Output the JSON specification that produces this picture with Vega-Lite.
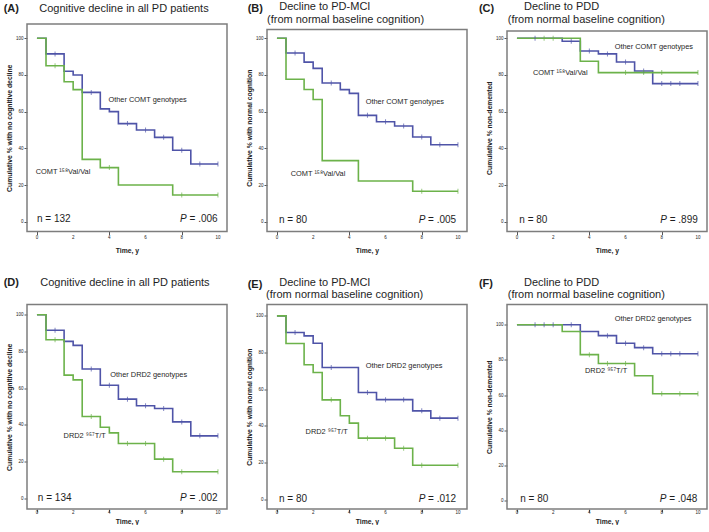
{
"$schema":"https://vega.github.io/schema/vega-lite/v6.json",
"padding":{"left":3,"top":1,"right":0,"bottom":0},
"bounds":"flush",
"columns":3,
"spacing":{"row":72.5,"column":40},
"config":{"view":{"stroke":null},"font":"Liberation Sans",
"axis":{"domain":false,"grid":false,"tickSize":3,"tickColor":"#555555","tickWidth":1,"labelFontSize":4.5,"labelColor":"#222222","labelPadding":1,"titleFontSize":6.8,"titleFontWeight":"bold","titleColor":"#222222","labelFont":"Liberation Sans","titleFont":"Liberation Sans","labelFlush":false,"labelOverlap":false},
"text":{"font":"Liberation Sans","color":"#1e1e1e"}},
"datasets":{
"xt":[{"v":0},{"v":2},{"v":4},{"v":6},{"v":8},{"v":10}],
"km":[
{"p":"A","g":"other","t":0,"s":100},{"p":"A","g":"other","t":0.5,"s":91.5},{"p":"A","g":"other","t":1.5,"s":82},{"p":"A","g":"other","t":2,"s":80},{"p":"A","g":"other","t":2.5,"s":70.5},{"p":"A","g":"other","t":3.5,"s":61.5},{"p":"A","g":"other","t":4,"s":60},{"p":"A","g":"other","t":4.5,"s":53.5},{"p":"A","g":"other","t":5.5,"s":50},{"p":"A","g":"other","t":6.5,"s":46},{"p":"A","g":"other","t":7.5,"s":39},{"p":"A","g":"other","t":8.5,"s":31.5},{"p":"A","g":"other","t":10,"s":31.5},
{"p":"A","g":"risk","t":0,"s":100},{"p":"A","g":"risk","t":0.5,"s":85},{"p":"A","g":"risk","t":1.5,"s":76.3},{"p":"A","g":"risk","t":2,"s":72},{"p":"A","g":"risk","t":2.5,"s":34},{"p":"A","g":"risk","t":3.5,"s":29.5},{"p":"A","g":"risk","t":4.5,"s":20},{"p":"A","g":"risk","t":7.5,"s":14.6},{"p":"A","g":"risk","t":10,"s":14.6},
{"p":"B","g":"other","t":0,"s":100},{"p":"B","g":"other","t":0.5,"s":92},{"p":"B","g":"other","t":1.5,"s":87},{"p":"B","g":"other","t":2,"s":83.6},{"p":"B","g":"other","t":2.5,"s":75.6},{"p":"B","g":"other","t":3.5,"s":72},{"p":"B","g":"other","t":4,"s":70},{"p":"B","g":"other","t":4.5,"s":58},{"p":"B","g":"other","t":5.5,"s":54.5},{"p":"B","g":"other","t":6.5,"s":52.2},{"p":"B","g":"other","t":7.5,"s":46.2},{"p":"B","g":"other","t":8.5,"s":42},{"p":"B","g":"other","t":10,"s":42},
{"p":"B","g":"risk","t":0,"s":100},{"p":"B","g":"risk","t":0.5,"s":77.7},{"p":"B","g":"risk","t":1.5,"s":72.1},{"p":"B","g":"risk","t":2,"s":66.6},{"p":"B","g":"risk","t":2.5,"s":33.3},{"p":"B","g":"risk","t":4.5,"s":22.2},{"p":"B","g":"risk","t":7.5,"s":16.6},{"p":"B","g":"risk","t":10,"s":16.6},
{"p":"C","g":"other","t":0,"s":100},{"p":"C","g":"other","t":2.5,"s":98.4},{"p":"C","g":"other","t":3.5,"s":93.1},{"p":"C","g":"other","t":4.5,"s":91.5},{"p":"C","g":"other","t":5.5,"s":87.1},{"p":"C","g":"other","t":6.5,"s":82.2},{"p":"C","g":"other","t":7.5,"s":75.3},{"p":"C","g":"other","t":10,"s":75.3},
{"p":"C","g":"risk","t":0,"s":100},{"p":"C","g":"risk","t":3.5,"s":87.5},{"p":"C","g":"risk","t":4.5,"s":81.3},{"p":"C","g":"risk","t":10,"s":81.3},
{"p":"D","g":"other","t":0,"s":100},{"p":"D","g":"other","t":0.5,"s":91.6},{"p":"D","g":"other","t":1.5,"s":85.5},{"p":"D","g":"other","t":2,"s":83.3},{"p":"D","g":"other","t":2.5,"s":70.4},{"p":"D","g":"other","t":3.5,"s":61.6},{"p":"D","g":"other","t":4.5,"s":54},{"p":"D","g":"other","t":5.5,"s":50.4},{"p":"D","g":"other","t":6.5,"s":48.9},{"p":"D","g":"other","t":7.5,"s":41.6},{"p":"D","g":"other","t":8.5,"s":34},{"p":"D","g":"other","t":10,"s":34},
{"p":"D","g":"risk","t":0,"s":100},{"p":"D","g":"risk","t":0.5,"s":86.4},{"p":"D","g":"risk","t":1.5,"s":67.1},{"p":"D","g":"risk","t":2,"s":64.5},{"p":"D","g":"risk","t":2.5,"s":44.5},{"p":"D","g":"risk","t":3.5,"s":38.7},{"p":"D","g":"risk","t":4,"s":35.6},{"p":"D","g":"risk","t":4.5,"s":29.8},{"p":"D","g":"risk","t":6.5,"s":21.3},{"p":"D","g":"risk","t":7.5,"s":14.4},{"p":"D","g":"risk","t":10,"s":14.4},
{"p":"E","g":"other","t":0,"s":100},{"p":"E","g":"other","t":0.5,"s":90.9},{"p":"E","g":"other","t":1.5,"s":89.1},{"p":"E","g":"other","t":2,"s":85.1},{"p":"E","g":"other","t":2.5,"s":71.8},{"p":"E","g":"other","t":4.5,"s":58.2},{"p":"E","g":"other","t":5.5,"s":54.3},{"p":"E","g":"other","t":7.5,"s":48.2},{"p":"E","g":"other","t":8.5,"s":44.2},{"p":"E","g":"other","t":10,"s":44.2},
{"p":"E","g":"risk","t":0,"s":100},{"p":"E","g":"risk","t":0.5,"s":84.9},{"p":"E","g":"risk","t":1.5,"s":73.3},{"p":"E","g":"risk","t":2,"s":69.1},{"p":"E","g":"risk","t":2.5,"s":54.2},{"p":"E","g":"risk","t":3.5,"s":45.5},{"p":"E","g":"risk","t":4,"s":41.5},{"p":"E","g":"risk","t":4.5,"s":33.3},{"p":"E","g":"risk","t":6.5,"s":27.8},{"p":"E","g":"risk","t":7.5,"s":18.5},{"p":"E","g":"risk","t":10,"s":18.5},
{"p":"F","g":"other","t":0,"s":100},{"p":"F","g":"other","t":3.5,"s":96.2},{"p":"F","g":"other","t":4.5,"s":93.8},{"p":"F","g":"other","t":5.5,"s":89.5},{"p":"F","g":"other","t":6.5,"s":87},{"p":"F","g":"other","t":7.5,"s":83.5},{"p":"F","g":"other","t":10,"s":83.5},
{"p":"F","g":"risk","t":0,"s":100},{"p":"F","g":"risk","t":2.5,"s":96.2},{"p":"F","g":"risk","t":3.5,"s":83},{"p":"F","g":"risk","t":4.5,"s":78},{"p":"F","g":"risk","t":6.5,"s":71},{"p":"F","g":"risk","t":7.5,"s":60.8},{"p":"F","g":"risk","t":10,"s":60.8}
],
"cens":[
{"p":"A","g":"other","t":1,"s":91.5},{"p":"A","g":"other","t":3,"s":70.5},{"p":"A","g":"other","t":5,"s":53.5},{"p":"A","g":"other","t":6,"s":50},{"p":"A","g":"other","t":7,"s":46},{"p":"A","g":"other","t":8,"s":39},{"p":"A","g":"other","t":9,"s":31.5},{"p":"A","g":"other","t":10,"s":31.5},
{"p":"A","g":"risk","t":1,"s":85},{"p":"A","g":"risk","t":4,"s":29.5},{"p":"A","g":"risk","t":8,"s":14.6},{"p":"A","g":"risk","t":10,"s":14.6},
{"p":"B","g":"other","t":1,"s":92},{"p":"B","g":"other","t":3,"s":75.6},{"p":"B","g":"other","t":5,"s":58},{"p":"B","g":"other","t":6,"s":54.5},{"p":"B","g":"other","t":7,"s":52.2},{"p":"B","g":"other","t":8,"s":46.2},{"p":"B","g":"other","t":9,"s":42},{"p":"B","g":"other","t":10,"s":42},
{"p":"B","g":"risk","t":8,"s":16.6},{"p":"B","g":"risk","t":10,"s":16.6},
{"p":"C","g":"other","t":1,"s":100},{"p":"C","g":"other","t":3,"s":98.4},{"p":"C","g":"other","t":4,"s":93.1},{"p":"C","g":"other","t":5,"s":91.5},{"p":"C","g":"other","t":6,"s":87.1},{"p":"C","g":"other","t":7,"s":82.2},{"p":"C","g":"other","t":8,"s":75.3},{"p":"C","g":"other","t":8.5,"s":75.3},{"p":"C","g":"other","t":9,"s":75.3},{"p":"C","g":"other","t":10,"s":75.3},
{"p":"C","g":"risk","t":1.5,"s":100},{"p":"C","g":"risk","t":2,"s":100},{"p":"C","g":"risk","t":6,"s":81.3},{"p":"C","g":"risk","t":7,"s":81.3},{"p":"C","g":"risk","t":8,"s":81.3},{"p":"C","g":"risk","t":10,"s":81.3},
{"p":"D","g":"other","t":1,"s":91.6},{"p":"D","g":"other","t":3,"s":70.4},{"p":"D","g":"other","t":4,"s":61.6},{"p":"D","g":"other","t":5,"s":54},{"p":"D","g":"other","t":6,"s":50.4},{"p":"D","g":"other","t":7,"s":48.9},{"p":"D","g":"other","t":8,"s":41.6},{"p":"D","g":"other","t":9,"s":34},{"p":"D","g":"other","t":10,"s":34},
{"p":"D","g":"risk","t":1,"s":86.4},{"p":"D","g":"risk","t":3,"s":44.5},{"p":"D","g":"risk","t":5,"s":29.8},{"p":"D","g":"risk","t":6,"s":29.8},{"p":"D","g":"risk","t":7,"s":21.3},{"p":"D","g":"risk","t":8,"s":14.4},{"p":"D","g":"risk","t":10,"s":14.4},
{"p":"E","g":"other","t":1,"s":90.9},{"p":"E","g":"other","t":3,"s":71.8},{"p":"E","g":"other","t":5,"s":58.2},{"p":"E","g":"other","t":6,"s":54.3},{"p":"E","g":"other","t":7,"s":54.3},{"p":"E","g":"other","t":8,"s":48.2},{"p":"E","g":"other","t":9,"s":44.2},{"p":"E","g":"other","t":10,"s":44.2},
{"p":"E","g":"risk","t":3,"s":54.2},{"p":"E","g":"risk","t":5,"s":33.3},{"p":"E","g":"risk","t":6,"s":33.3},{"p":"E","g":"risk","t":7,"s":27.8},{"p":"E","g":"risk","t":8,"s":18.5},{"p":"E","g":"risk","t":10,"s":18.5},
{"p":"F","g":"other","t":1,"s":100},{"p":"F","g":"other","t":1.5,"s":100},{"p":"F","g":"other","t":2,"s":100},{"p":"F","g":"other","t":3,"s":100},{"p":"F","g":"other","t":5,"s":93.8},{"p":"F","g":"other","t":6,"s":89.5},{"p":"F","g":"other","t":7,"s":87},{"p":"F","g":"other","t":8,"s":83.5},{"p":"F","g":"other","t":8.5,"s":83.5},{"p":"F","g":"other","t":9,"s":83.5},{"p":"F","g":"other","t":10,"s":83.5},
{"p":"F","g":"risk","t":4,"s":83},{"p":"F","g":"risk","t":5,"s":78},{"p":"F","g":"risk","t":6,"s":78},{"p":"F","g":"risk","t":8,"s":60.8},{"p":"F","g":"risk","t":9,"s":60.8},{"p":"F","g":"risk","t":10,"s":60.8}
]},
"concat":[
{"width":200,"height":207.5,"layer":[
{"data":{"values":[{}]},"mark":{"type":"rect","fill":"transparent","stroke":"#7d7d7d","strokeWidth":1.5},"encoding":{"x":{"datum":-0.55,"type":"quantitative","scale":{"domain":[-0.55,10.5],"nice":false,"zero":false}},"x2":{"datum":10.5},"y":{"datum":-5.34,"type":"quantitative","scale":{"domain":[-5.34,107.8],"nice":false,"zero":false}},"y2":{"datum":107.8}}},
{"data":{"name":"km"},"transform":[{"filter":"datum.p == 'A'"}],"mark":{"type":"line","interpolate":"step-after","strokeWidth":1.6},"encoding":{"x":{"field":"t","type":"quantitative","scale":{"domain":[-0.55,10.5],"nice":false,"zero":false},"axis":{"values":[0,2,4,6,8,10],"labels":false,"title":"Time, y","titlePadding":12}},"y":{"field":"s","type":"quantitative","scale":{"domain":[-5.34,107.8],"nice":false,"zero":false},"axis":{"values":[0,20,40,60,80,100],"title":"Cumulative % with no cognitive decline","titlePadding":3}},"color":{"field":"g","type":"nominal","scale":{"domain":["other","risk"],"range":["#4f54a8","#6cb24a"]},"legend":null}}},
{"data":{"name":"cens"},"transform":[{"filter":"datum.p == 'A'"}],"mark":{"type":"tick","orient":"vertical","size":5,"thickness":1},"encoding":{"x":{"field":"t","type":"quantitative","scale":{"domain":[-0.55,10.5],"nice":false,"zero":false}},"y":{"field":"s","type":"quantitative","scale":{"domain":[-5.34,107.8],"nice":false,"zero":false}},"color":{"field":"g","type":"nominal","scale":{"domain":["other","risk"],"range":["#4f54a8","#6cb24a"]},"legend":null}}},
{"data":{"name":"xt"},"mark":{"type":"text","align":"center","baseline":"middle","fontSize":4.5,"color":"#222222"},"encoding":{"x":{"field":"v","type":"quantitative","scale":{"domain":[-0.55,10.5],"nice":false,"zero":false}},"y":{"datum":-8.9,"type":"quantitative","scale":{"domain":[-5.34,107.8],"nice":false,"zero":false}},"text":{"field":"v","type":"quantitative"}}},
{"data":{"values":[{}]},"mark":{"type":"text","text":"Other COMT genotypes","align":"left","baseline":"middle","fontSize":7.4},"encoding":{"x":{"datum":3.95,"type":"quantitative","scale":{"domain":[-0.55,10.5],"nice":false,"zero":false}},"y":{"datum":66.6,"type":"quantitative","scale":{"domain":[-5.34,107.8],"nice":false,"zero":false}}}},
{"data":{"values":[{}]},"mark":{"type":"text","text":"COMT \u00b9\u2075\u2078Val/Val","align":"left","baseline":"middle","fontSize":7.4},"encoding":{"x":{"datum":-0.07,"type":"quantitative","scale":{"domain":[-0.55,10.5],"nice":false,"zero":false}},"y":{"datum":27,"type":"quantitative","scale":{"domain":[-5.34,107.8],"nice":false,"zero":false}}}},
{"data":{"values":[{}]},"mark":{"type":"text","text":"n = 132","align":"left","baseline":"alphabetic","fontSize":10},"encoding":{"x":{"datum":0,"type":"quantitative","scale":{"domain":[-0.55,10.5],"nice":false,"zero":false}},"y":{"datum":0,"type":"quantitative","scale":{"domain":[-5.34,107.8],"nice":false,"zero":false}}}},
{"data":{"values":[{}]},"mark":{"type":"text","text":"P","fontStyle":"italic","align":"left","baseline":"alphabetic","fontSize":10},"encoding":{"x":{"datum":7.9,"type":"quantitative","scale":{"domain":[-0.55,10.5],"nice":false,"zero":false}},"y":{"datum":0,"type":"quantitative","scale":{"domain":[-5.34,107.8],"nice":false,"zero":false}}}},
{"data":{"values":[{}]},"mark":{"type":"text","text":"= .006","align":"left","baseline":"alphabetic","fontSize":10},"encoding":{"x":{"datum":8.43,"type":"quantitative","scale":{"domain":[-0.55,10.5],"nice":false,"zero":false}},"y":{"datum":0,"type":"quantitative","scale":{"domain":[-5.34,107.8],"nice":false,"zero":false}}}},
{"data":{"values":[{}]},"mark":{"type":"text","text":"(A)","fontWeight":"bold","align":"left","baseline":"alphabetic","fontSize":11},"encoding":{"x":{"datum":-1.84,"type":"quantitative","scale":{"domain":[-0.55,10.5],"nice":false,"zero":false}},"y":{"datum":114.3,"type":"quantitative","scale":{"domain":[-5.34,107.8],"nice":false,"zero":false}}}},
{"data":{"values":[{}]},"mark":{"type":"text","text":"Cognitive decline in all PD patients","align":"left","baseline":"alphabetic","fontSize":11},"encoding":{"x":{"datum":0.13,"type":"quantitative","scale":{"domain":[-0.55,10.5],"nice":false,"zero":false}},"y":{"datum":114.3,"type":"quantitative","scale":{"domain":[-5.34,107.8],"nice":false,"zero":false}}}}
]},
{"width":200,"height":207.5,"layer":[
{"data":{"values":[{}]},"mark":{"type":"rect","fill":"transparent","stroke":"#7d7d7d","strokeWidth":1.5},"encoding":{"x":{"datum":-0.55,"type":"quantitative","scale":{"domain":[-0.55,10.5],"nice":false,"zero":false}},"x2":{"datum":10.5},"y":{"datum":-5.34,"type":"quantitative","scale":{"domain":[-5.34,107.8],"nice":false,"zero":false}},"y2":{"datum":104.8}}},
{"data":{"name":"km"},"transform":[{"filter":"datum.p == 'B'"}],"mark":{"type":"line","interpolate":"step-after","strokeWidth":1.6},"encoding":{"x":{"field":"t","type":"quantitative","scale":{"domain":[-0.55,10.5],"nice":false,"zero":false},"axis":{"values":[0,2,4,6,8,10],"labels":false,"title":"Time, y","titlePadding":12}},"y":{"field":"s","type":"quantitative","scale":{"domain":[-5.34,107.8],"nice":false,"zero":false},"axis":{"values":[0,20,40,60,80,100],"title":"Cumulative % with normal cognition","titlePadding":3}},"color":{"field":"g","type":"nominal","scale":{"domain":["other","risk"],"range":["#4f54a8","#6cb24a"]},"legend":null}}},
{"data":{"name":"cens"},"transform":[{"filter":"datum.p == 'B'"}],"mark":{"type":"tick","orient":"vertical","size":5,"thickness":1},"encoding":{"x":{"field":"t","type":"quantitative","scale":{"domain":[-0.55,10.5],"nice":false,"zero":false}},"y":{"field":"s","type":"quantitative","scale":{"domain":[-5.34,107.8],"nice":false,"zero":false}},"color":{"field":"g","type":"nominal","scale":{"domain":["other","risk"],"range":["#4f54a8","#6cb24a"]},"legend":null}}},
{"data":{"name":"xt"},"mark":{"type":"text","align":"center","baseline":"middle","fontSize":4.5,"color":"#222222"},"encoding":{"x":{"field":"v","type":"quantitative","scale":{"domain":[-0.55,10.5],"nice":false,"zero":false}},"y":{"datum":-8.9,"type":"quantitative","scale":{"domain":[-5.34,107.8],"nice":false,"zero":false}},"text":{"field":"v","type":"quantitative"}}},
{"data":{"values":[{}]},"mark":{"type":"text","text":"Other COMT genotypes","align":"left","baseline":"middle","fontSize":7.4},"encoding":{"x":{"datum":4.9,"type":"quantitative","scale":{"domain":[-0.55,10.5],"nice":false,"zero":false}},"y":{"datum":65.3,"type":"quantitative","scale":{"domain":[-5.34,107.8],"nice":false,"zero":false}}}},
{"data":{"values":[{}]},"mark":{"type":"text","text":"COMT \u00b9\u2075\u2078Val/Val","align":"left","baseline":"middle","fontSize":7.4},"encoding":{"x":{"datum":0.76,"type":"quantitative","scale":{"domain":[-0.55,10.5],"nice":false,"zero":false}},"y":{"datum":26.1,"type":"quantitative","scale":{"domain":[-5.34,107.8],"nice":false,"zero":false}}}},
{"data":{"values":[{}]},"mark":{"type":"text","text":"n = 80","align":"left","baseline":"alphabetic","fontSize":10},"encoding":{"x":{"datum":0.11,"type":"quantitative","scale":{"domain":[-0.55,10.5],"nice":false,"zero":false}},"y":{"datum":-0.5,"type":"quantitative","scale":{"domain":[-5.34,107.8],"nice":false,"zero":false}}}},
{"data":{"values":[{}]},"mark":{"type":"text","text":"P","fontStyle":"italic","align":"left","baseline":"alphabetic","fontSize":10},"encoding":{"x":{"datum":7.83,"type":"quantitative","scale":{"domain":[-0.55,10.5],"nice":false,"zero":false}},"y":{"datum":-0.5,"type":"quantitative","scale":{"domain":[-5.34,107.8],"nice":false,"zero":false}}}},
{"data":{"values":[{}]},"mark":{"type":"text","text":"= .005","align":"left","baseline":"alphabetic","fontSize":10},"encoding":{"x":{"datum":8.35,"type":"quantitative","scale":{"domain":[-0.55,10.5],"nice":false,"zero":false}},"y":{"datum":-0.5,"type":"quantitative","scale":{"domain":[-5.34,107.8],"nice":false,"zero":false}}}},
{"data":{"values":[{}]},"mark":{"type":"text","text":"(B)","fontWeight":"bold","align":"left","baseline":"alphabetic","fontSize":11},"encoding":{"x":{"datum":-1.62,"type":"quantitative","scale":{"domain":[-0.55,10.5],"nice":false,"zero":false}},"y":{"datum":114.1,"type":"quantitative","scale":{"domain":[-5.34,107.8],"nice":false,"zero":false}}}},
{"data":{"values":[{}]},"mark":{"type":"text","text":"Decline to PD-MCI","align":"left","baseline":"alphabetic","fontSize":11},"encoding":{"x":{"datum":0.13,"type":"quantitative","scale":{"domain":[-0.55,10.5],"nice":false,"zero":false}},"y":{"datum":115.4,"type":"quantitative","scale":{"domain":[-5.34,107.8],"nice":false,"zero":false}}}},
{"data":{"values":[{}]},"mark":{"type":"text","text":"(from normal baseline cognition)","align":"left","baseline":"alphabetic","fontSize":11},"encoding":{"x":{"datum":-0.55,"type":"quantitative","scale":{"domain":[-0.55,10.5],"nice":false,"zero":false}},"y":{"datum":108.3,"type":"quantitative","scale":{"domain":[-5.34,107.8],"nice":false,"zero":false}}}}
]},
{"width":200,"height":207.5,"layer":[
{"data":{"values":[{}]},"mark":{"type":"rect","fill":"transparent","stroke":"#7d7d7d","strokeWidth":1.5},"encoding":{"x":{"datum":-0.55,"type":"quantitative","scale":{"domain":[-0.55,10.5],"nice":false,"zero":false}},"x2":{"datum":10.5},"y":{"datum":-5.34,"type":"quantitative","scale":{"domain":[-5.34,107.8],"nice":false,"zero":false}},"y2":{"datum":104}}},
{"data":{"name":"km"},"transform":[{"filter":"datum.p == 'C'"}],"mark":{"type":"line","interpolate":"step-after","strokeWidth":1.6},"encoding":{"x":{"field":"t","type":"quantitative","scale":{"domain":[-0.55,10.5],"nice":false,"zero":false},"axis":{"values":[0,2,4,6,8,10],"labels":false,"title":"Time, y","titlePadding":12}},"y":{"field":"s","type":"quantitative","scale":{"domain":[-5.34,107.8],"nice":false,"zero":false},"axis":{"values":[0,20,40,60,80,100],"title":"Cumulative % non-demented","titlePadding":3}},"color":{"field":"g","type":"nominal","scale":{"domain":["other","risk"],"range":["#4f54a8","#6cb24a"]},"legend":null}}},
{"data":{"name":"cens"},"transform":[{"filter":"datum.p == 'C'"}],"mark":{"type":"tick","orient":"vertical","size":5,"thickness":1},"encoding":{"x":{"field":"t","type":"quantitative","scale":{"domain":[-0.55,10.5],"nice":false,"zero":false}},"y":{"field":"s","type":"quantitative","scale":{"domain":[-5.34,107.8],"nice":false,"zero":false}},"color":{"field":"g","type":"nominal","scale":{"domain":["other","risk"],"range":["#4f54a8","#6cb24a"]},"legend":null}}},
{"data":{"name":"xt"},"mark":{"type":"text","align":"center","baseline":"middle","fontSize":4.5,"color":"#222222"},"encoding":{"x":{"field":"v","type":"quantitative","scale":{"domain":[-0.55,10.5],"nice":false,"zero":false}},"y":{"datum":-8.9,"type":"quantitative","scale":{"domain":[-5.34,107.8],"nice":false,"zero":false}},"text":{"field":"v","type":"quantitative"}}},
{"data":{"values":[{}]},"mark":{"type":"text","text":"Other COMT genotypes","align":"left","baseline":"middle","fontSize":7.4},"encoding":{"x":{"datum":5.4,"type":"quantitative","scale":{"domain":[-0.55,10.5],"nice":false,"zero":false}},"y":{"datum":95.1,"type":"quantitative","scale":{"domain":[-5.34,107.8],"nice":false,"zero":false}}}},
{"data":{"values":[{}]},"mark":{"type":"text","text":"COMT \u00b9\u2075\u2078Val/Val","align":"left","baseline":"middle","fontSize":7.4},"encoding":{"x":{"datum":0.88,"type":"quantitative","scale":{"domain":[-0.55,10.5],"nice":false,"zero":false}},"y":{"datum":81.1,"type":"quantitative","scale":{"domain":[-5.34,107.8],"nice":false,"zero":false}}}},
{"data":{"values":[{}]},"mark":{"type":"text","text":"n = 80","align":"left","baseline":"alphabetic","fontSize":10},"encoding":{"x":{"datum":0.13,"type":"quantitative","scale":{"domain":[-0.55,10.5],"nice":false,"zero":false}},"y":{"datum":-0.5,"type":"quantitative","scale":{"domain":[-5.34,107.8],"nice":false,"zero":false}}}},
{"data":{"values":[{}]},"mark":{"type":"text","text":"P","fontStyle":"italic","align":"left","baseline":"alphabetic","fontSize":10},"encoding":{"x":{"datum":7.92,"type":"quantitative","scale":{"domain":[-0.55,10.5],"nice":false,"zero":false}},"y":{"datum":-0.5,"type":"quantitative","scale":{"domain":[-5.34,107.8],"nice":false,"zero":false}}}},
{"data":{"values":[{}]},"mark":{"type":"text","text":"= .899","align":"left","baseline":"alphabetic","fontSize":10},"encoding":{"x":{"datum":8.44,"type":"quantitative","scale":{"domain":[-0.55,10.5],"nice":false,"zero":false}},"y":{"datum":-0.5,"type":"quantitative","scale":{"domain":[-5.34,107.8],"nice":false,"zero":false}}}},
{"data":{"values":[{}]},"mark":{"type":"text","text":"(C)","fontWeight":"bold","align":"left","baseline":"alphabetic","fontSize":11},"encoding":{"x":{"datum":-2.1,"type":"quantitative","scale":{"domain":[-0.55,10.5],"nice":false,"zero":false}},"y":{"datum":114.1,"type":"quantitative","scale":{"domain":[-5.34,107.8],"nice":false,"zero":false}}}},
{"data":{"values":[{}]},"mark":{"type":"text","text":"Decline to PDD","align":"left","baseline":"alphabetic","fontSize":11},"encoding":{"x":{"datum":0.39,"type":"quantitative","scale":{"domain":[-0.55,10.5],"nice":false,"zero":false}},"y":{"datum":115.4,"type":"quantitative","scale":{"domain":[-5.34,107.8],"nice":false,"zero":false}}}},
{"data":{"values":[{}]},"mark":{"type":"text","text":"(from normal baseline cognition)","align":"left","baseline":"alphabetic","fontSize":11},"encoding":{"x":{"datum":-0.51,"type":"quantitative","scale":{"domain":[-0.55,10.5],"nice":false,"zero":false}},"y":{"datum":108.3,"type":"quantitative","scale":{"domain":[-5.34,107.8],"nice":false,"zero":false}}}}
]},
{"width":200,"height":204.5,"layer":[
{"data":{"values":[{}]},"mark":{"type":"rect","fill":"transparent","stroke":"#7d7d7d","strokeWidth":1.5},"encoding":{"x":{"datum":-0.55,"type":"quantitative","scale":{"domain":[-0.55,10.5],"nice":false,"zero":false}},"x2":{"datum":10.5},"y":{"datum":-5.89,"type":"quantitative","scale":{"domain":[-5.89,105.6],"nice":false,"zero":false}},"y2":{"datum":105.6}}},
{"data":{"name":"km"},"transform":[{"filter":"datum.p == 'D'"}],"mark":{"type":"line","interpolate":"step-after","strokeWidth":1.6},"encoding":{"x":{"field":"t","type":"quantitative","scale":{"domain":[-0.55,10.5],"nice":false,"zero":false},"axis":{"values":[0,2,4,6,8,10],"labels":false,"title":"Time, y","titlePadding":5.5}},"y":{"field":"s","type":"quantitative","scale":{"domain":[-5.89,105.6],"nice":false,"zero":false},"axis":{"values":[0,20,40,60,80,100],"title":"Cumulative % with no cognitive decline","titlePadding":3}},"color":{"field":"g","type":"nominal","scale":{"domain":["other","risk"],"range":["#4f54a8","#6cb24a"]},"legend":null}}},
{"data":{"name":"cens"},"transform":[{"filter":"datum.p == 'D'"}],"mark":{"type":"tick","orient":"vertical","size":5,"thickness":1},"encoding":{"x":{"field":"t","type":"quantitative","scale":{"domain":[-0.55,10.5],"nice":false,"zero":false}},"y":{"field":"s","type":"quantitative","scale":{"domain":[-5.89,105.6],"nice":false,"zero":false}},"color":{"field":"g","type":"nominal","scale":{"domain":["other","risk"],"range":["#4f54a8","#6cb24a"]},"legend":null}}},
{"data":{"name":"xt"},"mark":{"type":"text","align":"center","baseline":"middle","fontSize":4.5,"color":"#222222"},"encoding":{"x":{"field":"v","type":"quantitative","scale":{"domain":[-0.55,10.5],"nice":false,"zero":false}},"y":{"datum":-7.8,"type":"quantitative","scale":{"domain":[-5.89,105.6],"nice":false,"zero":false}},"text":{"field":"v","type":"quantitative"}}},
{"data":{"values":[{}]},"mark":{"type":"text","text":"Other DRD2 genotypes","align":"left","baseline":"middle","fontSize":7.4},"encoding":{"x":{"datum":4.05,"type":"quantitative","scale":{"domain":[-0.55,10.5],"nice":false,"zero":false}},"y":{"datum":67.1,"type":"quantitative","scale":{"domain":[-5.89,105.6],"nice":false,"zero":false}}}},
{"data":{"values":[{}]},"mark":{"type":"text","text":"DRD2 \u2079\u2075\u2077T/T","align":"left","baseline":"middle","fontSize":7.4},"encoding":{"x":{"datum":1.47,"type":"quantitative","scale":{"domain":[-0.55,10.5],"nice":false,"zero":false}},"y":{"datum":34,"type":"quantitative","scale":{"domain":[-5.89,105.6],"nice":false,"zero":false}}}},
{"data":{"values":[{}]},"mark":{"type":"text","text":"n = 134","align":"left","baseline":"alphabetic","fontSize":10},"encoding":{"x":{"datum":0.05,"type":"quantitative","scale":{"domain":[-0.55,10.5],"nice":false,"zero":false}},"y":{"datum":-1.4,"type":"quantitative","scale":{"domain":[-5.89,105.6],"nice":false,"zero":false}}}},
{"data":{"values":[{}]},"mark":{"type":"text","text":"P","fontStyle":"italic","align":"left","baseline":"alphabetic","fontSize":10},"encoding":{"x":{"datum":7.9,"type":"quantitative","scale":{"domain":[-0.55,10.5],"nice":false,"zero":false}},"y":{"datum":-1.4,"type":"quantitative","scale":{"domain":[-5.89,105.6],"nice":false,"zero":false}}}},
{"data":{"values":[{}]},"mark":{"type":"text","text":"= .002","align":"left","baseline":"alphabetic","fontSize":10},"encoding":{"x":{"datum":8.43,"type":"quantitative","scale":{"domain":[-0.55,10.5],"nice":false,"zero":false}},"y":{"datum":-1.4,"type":"quantitative","scale":{"domain":[-5.89,105.6],"nice":false,"zero":false}}}},
{"data":{"values":[{}]},"mark":{"type":"text","text":"(D)","fontWeight":"bold","align":"left","baseline":"alphabetic","fontSize":11},"encoding":{"x":{"datum":-1.84,"type":"quantitative","scale":{"domain":[-0.55,10.5],"nice":false,"zero":false}},"y":{"datum":115.8,"type":"quantitative","scale":{"domain":[-5.89,105.6],"nice":false,"zero":false}}}},
{"data":{"values":[{}]},"mark":{"type":"text","text":"Cognitive decline in all PD patients","align":"left","baseline":"alphabetic","fontSize":11},"encoding":{"x":{"datum":0.18,"type":"quantitative","scale":{"domain":[-0.55,10.5],"nice":false,"zero":false}},"y":{"datum":115.8,"type":"quantitative","scale":{"domain":[-5.89,105.6],"nice":false,"zero":false}}}}
]},
{"width":200,"height":204.5,"layer":[
{"data":{"values":[{}]},"mark":{"type":"rect","fill":"transparent","stroke":"#7d7d7d","strokeWidth":1.5},"encoding":{"x":{"datum":-0.55,"type":"quantitative","scale":{"domain":[-0.55,10.5],"nice":false,"zero":false}},"x2":{"datum":10.5},"y":{"datum":-5.34,"type":"quantitative","scale":{"domain":[-5.34,106.2],"nice":false,"zero":false}},"y2":{"datum":106.2}}},
{"data":{"name":"km"},"transform":[{"filter":"datum.p == 'E'"}],"mark":{"type":"line","interpolate":"step-after","strokeWidth":1.6},"encoding":{"x":{"field":"t","type":"quantitative","scale":{"domain":[-0.55,10.5],"nice":false,"zero":false},"axis":{"values":[0,2,4,6,8,10],"labels":false,"title":"Time, y","titlePadding":5.5}},"y":{"field":"s","type":"quantitative","scale":{"domain":[-5.34,106.2],"nice":false,"zero":false},"axis":{"values":[0,20,40,60,80,100],"title":"Cumulative % with normal cognition","titlePadding":3}},"color":{"field":"g","type":"nominal","scale":{"domain":["other","risk"],"range":["#4f54a8","#6cb24a"]},"legend":null}}},
{"data":{"name":"cens"},"transform":[{"filter":"datum.p == 'E'"}],"mark":{"type":"tick","orient":"vertical","size":5,"thickness":1},"encoding":{"x":{"field":"t","type":"quantitative","scale":{"domain":[-0.55,10.5],"nice":false,"zero":false}},"y":{"field":"s","type":"quantitative","scale":{"domain":[-5.34,106.2],"nice":false,"zero":false}},"color":{"field":"g","type":"nominal","scale":{"domain":["other","risk"],"range":["#4f54a8","#6cb24a"]},"legend":null}}},
{"data":{"name":"xt"},"mark":{"type":"text","align":"center","baseline":"middle","fontSize":4.5,"color":"#222222"},"encoding":{"x":{"field":"v","type":"quantitative","scale":{"domain":[-0.55,10.5],"nice":false,"zero":false}},"y":{"datum":-7.25,"type":"quantitative","scale":{"domain":[-5.34,106.2],"nice":false,"zero":false}},"text":{"field":"v","type":"quantitative"}}},
{"data":{"values":[{}]},"mark":{"type":"text","text":"Other DRD2 genotypes","align":"left","baseline":"middle","fontSize":7.4},"encoding":{"x":{"datum":4.9,"type":"quantitative","scale":{"domain":[-0.55,10.5],"nice":false,"zero":false}},"y":{"datum":72.7,"type":"quantitative","scale":{"domain":[-5.34,106.2],"nice":false,"zero":false}}}},
{"data":{"values":[{}]},"mark":{"type":"text","text":"DRD2 \u2079\u2075\u2077T/T","align":"left","baseline":"middle","fontSize":7.4},"encoding":{"x":{"datum":1.58,"type":"quantitative","scale":{"domain":[-0.55,10.5],"nice":false,"zero":false}},"y":{"datum":36.4,"type":"quantitative","scale":{"domain":[-5.34,106.2],"nice":false,"zero":false}}}},
{"data":{"values":[{}]},"mark":{"type":"text","text":"n = 80","align":"left","baseline":"alphabetic","fontSize":10},"encoding":{"x":{"datum":0.11,"type":"quantitative","scale":{"domain":[-0.55,10.5],"nice":false,"zero":false}},"y":{"datum":-1.4,"type":"quantitative","scale":{"domain":[-5.34,106.2],"nice":false,"zero":false}}}},
{"data":{"values":[{}]},"mark":{"type":"text","text":"P","fontStyle":"italic","align":"left","baseline":"alphabetic","fontSize":10},"encoding":{"x":{"datum":7.83,"type":"quantitative","scale":{"domain":[-0.55,10.5],"nice":false,"zero":false}},"y":{"datum":-1.4,"type":"quantitative","scale":{"domain":[-5.34,106.2],"nice":false,"zero":false}}}},
{"data":{"values":[{}]},"mark":{"type":"text","text":"= .012","align":"left","baseline":"alphabetic","fontSize":10},"encoding":{"x":{"datum":8.35,"type":"quantitative","scale":{"domain":[-0.55,10.5],"nice":false,"zero":false}},"y":{"datum":-1.4,"type":"quantitative","scale":{"domain":[-5.34,106.2],"nice":false,"zero":false}}}},
{"data":{"values":[{}]},"mark":{"type":"text","text":"(E)","fontWeight":"bold","align":"left","baseline":"alphabetic","fontSize":11},"encoding":{"x":{"datum":-1.62,"type":"quantitative","scale":{"domain":[-0.55,10.5],"nice":false,"zero":false}},"y":{"datum":115.4,"type":"quantitative","scale":{"domain":[-5.34,106.2],"nice":false,"zero":false}}}},
{"data":{"values":[{}]},"mark":{"type":"text","text":"Decline to PD-MCI","align":"left","baseline":"alphabetic","fontSize":11},"encoding":{"x":{"datum":0.13,"type":"quantitative","scale":{"domain":[-0.55,10.5],"nice":false,"zero":false}},"y":{"datum":116.4,"type":"quantitative","scale":{"domain":[-5.34,106.2],"nice":false,"zero":false}}}},
{"data":{"values":[{}]},"mark":{"type":"text","text":"(from normal baseline cognition)","align":"left","baseline":"alphabetic","fontSize":11},"encoding":{"x":{"datum":-0.6,"type":"quantitative","scale":{"domain":[-0.55,10.5],"nice":false,"zero":false}},"y":{"datum":109.5,"type":"quantitative","scale":{"domain":[-5.34,106.2],"nice":false,"zero":false}}}}
]},
{"width":200,"height":204.5,"layer":[
{"data":{"values":[{}]},"mark":{"type":"rect","fill":"transparent","stroke":"#7d7d7d","strokeWidth":1.5},"encoding":{"x":{"datum":-0.55,"type":"quantitative","scale":{"domain":[-0.55,10.5],"nice":false,"zero":false}},"x2":{"datum":10.5},"y":{"datum":-4.66,"type":"quantitative","scale":{"domain":[-4.66,111.5],"nice":false,"zero":false}},"y2":{"datum":111.5}}},
{"data":{"name":"km"},"transform":[{"filter":"datum.p == 'F'"}],"mark":{"type":"line","interpolate":"step-after","strokeWidth":1.6},"encoding":{"x":{"field":"t","type":"quantitative","scale":{"domain":[-0.55,10.5],"nice":false,"zero":false},"axis":{"values":[0,2,4,6,8,10],"labels":false,"title":"Time, y","titlePadding":5.5}},"y":{"field":"s","type":"quantitative","scale":{"domain":[-4.66,111.5],"nice":false,"zero":false},"axis":{"values":[0,20,40,60,80,100],"title":"Cumulative % non-demented","titlePadding":3}},"color":{"field":"g","type":"nominal","scale":{"domain":["other","risk"],"range":["#4f54a8","#6cb24a"]},"legend":null}}},
{"data":{"name":"cens"},"transform":[{"filter":"datum.p == 'F'"}],"mark":{"type":"tick","orient":"vertical","size":5,"thickness":1},"encoding":{"x":{"field":"t","type":"quantitative","scale":{"domain":[-0.55,10.5],"nice":false,"zero":false}},"y":{"field":"s","type":"quantitative","scale":{"domain":[-4.66,111.5],"nice":false,"zero":false}},"color":{"field":"g","type":"nominal","scale":{"domain":["other","risk"],"range":["#4f54a8","#6cb24a"]},"legend":null}}},
{"data":{"name":"xt"},"mark":{"type":"text","align":"center","baseline":"middle","fontSize":4.5,"color":"#222222"},"encoding":{"x":{"field":"v","type":"quantitative","scale":{"domain":[-0.55,10.5],"nice":false,"zero":false}},"y":{"datum":-6.65,"type":"quantitative","scale":{"domain":[-4.66,111.5],"nice":false,"zero":false}},"text":{"field":"v","type":"quantitative"}}},
{"data":{"values":[{}]},"mark":{"type":"text","text":"Other DRD2 genotypes","align":"left","baseline":"middle","fontSize":7.4},"encoding":{"x":{"datum":5.4,"type":"quantitative","scale":{"domain":[-0.55,10.5],"nice":false,"zero":false}},"y":{"datum":103.2,"type":"quantitative","scale":{"domain":[-4.66,111.5],"nice":false,"zero":false}}}},
{"data":{"values":[{}]},"mark":{"type":"text","text":"DRD2 \u2079\u2075\u2077T/T","align":"left","baseline":"middle","fontSize":7.4},"encoding":{"x":{"datum":3.76,"type":"quantitative","scale":{"domain":[-0.55,10.5],"nice":false,"zero":false}},"y":{"datum":73.9,"type":"quantitative","scale":{"domain":[-4.66,111.5],"nice":false,"zero":false}}}},
{"data":{"values":[{}]},"mark":{"type":"text","text":"n = 80","align":"left","baseline":"alphabetic","fontSize":10},"encoding":{"x":{"datum":0.18,"type":"quantitative","scale":{"domain":[-0.55,10.5],"nice":false,"zero":false}},"y":{"datum":-0.6,"type":"quantitative","scale":{"domain":[-4.66,111.5],"nice":false,"zero":false}}}},
{"data":{"values":[{}]},"mark":{"type":"text","text":"P","fontStyle":"italic","align":"left","baseline":"alphabetic","fontSize":10},"encoding":{"x":{"datum":7.89,"type":"quantitative","scale":{"domain":[-0.55,10.5],"nice":false,"zero":false}},"y":{"datum":-0.6,"type":"quantitative","scale":{"domain":[-4.66,111.5],"nice":false,"zero":false}}}},
{"data":{"values":[{}]},"mark":{"type":"text","text":"= .048","align":"left","baseline":"alphabetic","fontSize":10},"encoding":{"x":{"datum":8.41,"type":"quantitative","scale":{"domain":[-0.55,10.5],"nice":false,"zero":false}},"y":{"datum":-0.6,"type":"quantitative","scale":{"domain":[-4.66,111.5],"nice":false,"zero":false}}}},
{"data":{"values":[{}]},"mark":{"type":"text","text":"(F)","fontWeight":"bold","align":"left","baseline":"alphabetic","fontSize":11},"encoding":{"x":{"datum":-2.1,"type":"quantitative","scale":{"domain":[-0.55,10.5],"nice":false,"zero":false}},"y":{"datum":121.2,"type":"quantitative","scale":{"domain":[-4.66,111.5],"nice":false,"zero":false}}}},
{"data":{"values":[{}]},"mark":{"type":"text","text":"Decline to PDD","align":"left","baseline":"alphabetic","fontSize":11},"encoding":{"x":{"datum":0.39,"type":"quantitative","scale":{"domain":[-0.55,10.5],"nice":false,"zero":false}},"y":{"datum":122.2,"type":"quantitative","scale":{"domain":[-4.66,111.5],"nice":false,"zero":false}}}},
{"data":{"values":[{}]},"mark":{"type":"text","text":"(from normal baseline cognition)","align":"left","baseline":"alphabetic","fontSize":11},"encoding":{"x":{"datum":-0.51,"type":"quantitative","scale":{"domain":[-0.55,10.5],"nice":false,"zero":false}},"y":{"datum":115.1,"type":"quantitative","scale":{"domain":[-4.66,111.5],"nice":false,"zero":false}}}}
]}
]
}
